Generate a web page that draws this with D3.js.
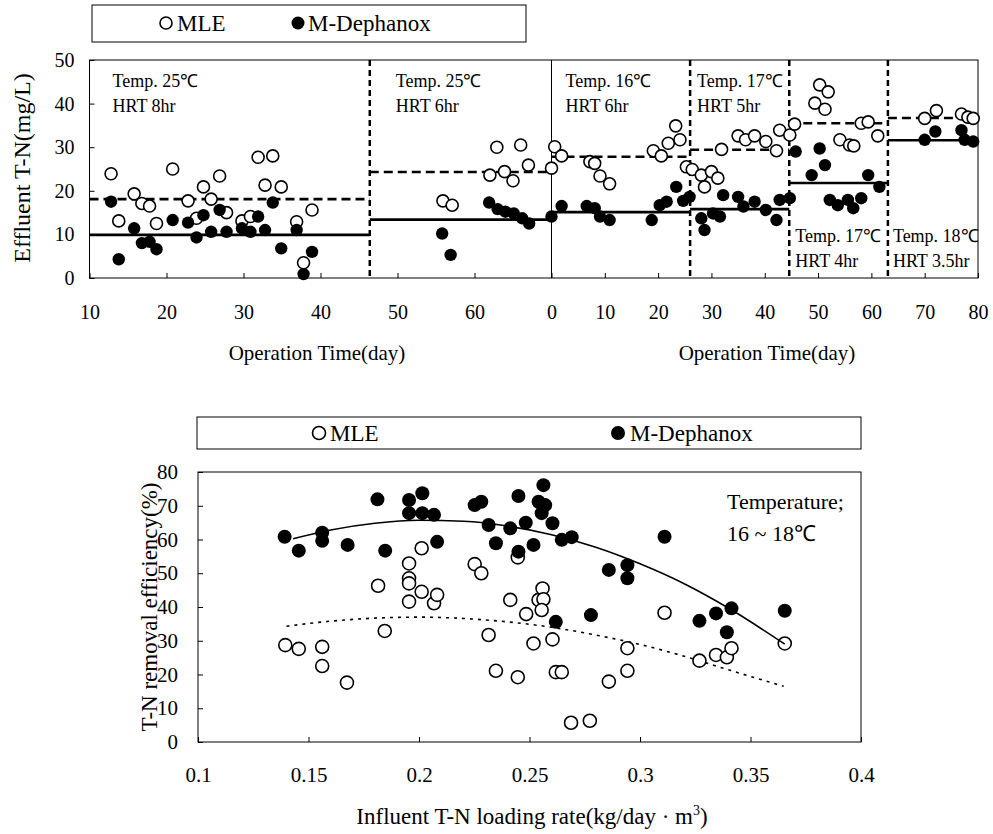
<!DOCTYPE html>
<html>
<head>
<meta charset="utf-8">
<script src="https://cdn.jsdelivr.net/npm/d3@7"></script>
<style>
  body { margin: 0; background: #fff; }
  svg, svg text { font-family: "Liberation Serif", "Times New Roman", serif; }
</style>
</head>
<body>
<svg id="chart" width="993" height="834"></svg>
<script>
// ---- top chart: effluent T-N vs operation time (two runs side by side) ----
const leftTicks = [10, 20, 30, 40, 50, 60];
const rightTicks = [0, 10, 20, 30, 40, 50, 60, 70, 80];
const topYTicks = [0, 10, 20, 30, 40, 50];

// first run (left half, day 10..70)
const mleLeftDay = [12.8, 13.8, 15.8, 16.8, 17.8, 18.7, 20.8, 22.8, 23.9, 24.8, 25.8, 26.9, 27.8, 29.8, 30.9, 31.9, 32.8, 33.8, 34.9, 36.9, 37.8, 38.9,
  55.9, 57.1, 62.0, 62.9, 63.9, 65.0, 66.0, 67.0];
const mleLeftVal = [23.9, 13.1, 19.3, 17.1, 16.5, 12.5, 25.0, 17.7, 13.7, 20.9, 18.1, 23.4, 15.0, 13.1, 14.1, 27.7, 21.3, 28.0, 20.9, 12.9, 3.5, 15.6,
  17.7, 16.7, 23.6, 30.0, 24.4, 22.3, 30.5, 25.9];
const mdLeftDay = [12.8, 13.8, 15.8, 16.8, 17.8, 18.7, 20.8, 22.8, 23.9, 24.8, 25.8, 26.9, 27.8, 29.8, 30.9, 31.9, 32.8, 33.8, 34.9, 36.9, 37.8, 38.9,
  55.8, 56.9, 61.9, 63.0, 64.0, 65.1, 66.2, 67.1];
const mdLeftVal = [17.5, 4.3, 11.4, 8.0, 8.3, 6.6, 13.3, 12.7, 9.3, 14.4, 10.6, 15.6, 10.6, 11.4, 10.6, 14.1, 11.0, 17.3, 6.8, 11.0, 0.9, 6.0,
  10.2, 5.3, 17.3, 15.8, 15.2, 14.8, 13.7, 12.5];

// second run (right half, day 0..80)
const mleRightDay = [0.0, 0.6, 1.9, 7.2, 8.1, 9.1, 10.9, 19.1, 20.6, 21.9, 23.3, 24.1, 25.3, 26.4, 28.1, 28.7, 30.0, 31.2, 31.9, 35.0,
  36.4, 38.1, 40.2, 42.2, 42.8, 44.7, 45.6, 49.4, 50.3, 51.3, 51.9, 54.1, 55.9, 56.7, 58.1, 59.4, 61.2, 70.0, 72.2, 76.9, 78.1, 79.1];
const mleRightVal = [25.2, 30.1, 28.0, 26.7, 26.3, 23.4, 21.6, 29.2, 28.0, 30.9, 34.9, 31.7, 25.5, 24.9, 23.6, 20.9, 24.4, 22.9, 29.5, 32.6,
  31.7, 32.6, 31.3, 29.2, 33.9, 32.8, 35.3, 40.1, 44.3, 38.7, 42.7, 31.7, 30.5, 30.3, 35.5, 35.8, 32.6, 36.6, 38.4, 37.6, 36.9, 36.6];
const mdRightDay = [0.0, 1.9, 6.6, 8.1, 9.1, 10.9, 18.8, 20.3, 21.6, 23.4, 24.7, 25.9, 28.1, 28.7, 30.3, 31.6, 32.2, 35.0, 36.0, 38.1,
  40.2, 42.2, 42.8, 44.7, 45.8, 48.8, 50.3, 51.3, 52.2, 53.7, 55.6, 56.6, 58.1, 59.4, 61.5, 70.0, 72.0, 76.9, 77.5, 79.1];
const mdRightVal = [14.1, 16.5, 16.5, 16.0, 14.1, 13.3, 13.3, 16.7, 17.5, 20.9, 17.7, 18.6, 13.7, 11.0, 14.8, 14.1, 19.0, 18.6, 16.4, 17.5,
  15.6, 13.3, 17.9, 18.3, 29.0, 23.6, 29.7, 25.9, 17.9, 16.7, 17.9, 16.0, 18.3, 23.6, 20.9, 31.7, 33.6, 33.9, 31.7, 31.3];

// operating periods: panel, start/end day, mean MLE (dashed), mean M-Dephanox (solid)
const periodPanel = ["L", "L", "R", "R", "R", "R"];
const periodStart = [10, 46.4, 0, 26.0, 44.6, 63.1];
const periodEnd = [46.4, 70, 26.0, 44.6, 63.1, 80];
const periodMLE = [18.1, 24.3, 27.8, 29.4, 35.5, 36.7];
const periodMD = [9.9, 13.4, 15.1, 15.8, 21.8, 31.6];
const periodTemp = ["Temp. 25\u2103", "Temp. 25\u2103", "Temp. 16\u2103", "Temp. 17\u2103", "Temp. 17\u2103", "Temp. 18\u2103"];
const periodHRT = ["HRT 8hr", "HRT 6hr", "HRT 6hr", "HRT 5hr", "HRT 4hr", "HRT 3.5hr"];

// ---- bottom chart: removal efficiency vs loading rate ----
const bottomXTicks = [0.1, 0.15, 0.2, 0.25, 0.3, 0.35, 0.4];
const bottomYTicks = [0, 10, 20, 30, 40, 50, 60, 70, 80];
const mleLoad = [0.1395, 0.1456, 0.1562, 0.1562, 0.1674, 0.1815, 0.1845, 0.1955, 0.1955, 0.1955, 0.1955, 0.2012, 0.2012, 0.2068,
  0.2082, 0.2252, 0.2282, 0.2315, 0.2348, 0.2413, 0.2447, 0.2447, 0.2485, 0.2518, 0.2541, 0.2559, 0.2563, 0.2555, 0.2604, 0.2619,
  0.2646, 0.2688, 0.2773, 0.2859, 0.2943, 0.2943, 0.3111, 0.3269, 0.3344, 0.3393, 0.3414, 0.3655];
const mleEff = [28.7, 27.6, 28.2, 22.5, 17.6, 46.3, 32.9, 52.9, 48.5, 47.0, 41.6, 57.4, 44.5, 41.1,
  43.6, 52.7, 50.0, 31.7, 21.1, 42.1, 54.7, 19.2, 37.9, 29.2, 42.1, 45.5, 42.3, 39.1, 30.4, 20.7,
  20.7, 5.7, 6.3, 17.9, 27.8, 21.1, 38.3, 24.1, 25.8, 25.1, 27.8, 29.2];
const mdLoad = [0.1392, 0.1456, 0.1562, 0.1562, 0.1677, 0.1812, 0.1847, 0.1955, 0.1955, 0.2015, 0.2015, 0.2068, 0.2082, 0.2252,
  0.2282, 0.2315, 0.2348, 0.2413, 0.2450, 0.2450, 0.2483, 0.2518, 0.2541, 0.2563, 0.2571, 0.2555, 0.2604, 0.2646, 0.2691, 0.2619,
  0.2778, 0.2859, 0.2943, 0.2943, 0.3111, 0.3269, 0.3344, 0.3414, 0.3393, 0.3655];
const mdEff = [60.8, 56.7, 62.0, 59.6, 58.4, 71.9, 56.7, 71.7, 67.8, 73.7, 67.8, 67.3, 59.3, 70.2,
  71.2, 64.3, 58.9, 63.3, 72.9, 56.4, 65.0, 58.4, 71.2, 76.1, 70.2, 67.8, 64.8, 59.9, 60.7, 35.6,
  37.6, 51.0, 52.4, 48.5, 60.8, 35.9, 38.1, 39.6, 32.5, 38.9];
// trend curves
const mdTrendX = [0.143, 0.16, 0.18, 0.20, 0.22, 0.24, 0.26, 0.28, 0.30, 0.32, 0.34, 0.3655];
const mdTrendY = [60.2, 62.8, 64.8, 65.7, 65.4, 64.0, 61.4, 57.7, 52.8, 46.9, 39.7, 29.0];
const mleTrendX = [0.14, 0.16, 0.18, 0.20, 0.22, 0.24, 0.26, 0.28, 0.30, 0.32, 0.34, 0.365];
const mleTrendY = [34.3, 35.8, 36.7, 37.0, 36.6, 35.6, 34.0, 31.7, 28.9, 25.4, 21.4, 16.5];

const svg = d3.select("#chart");
const black = "#000";
const serif = "'Liberation Serif', 'Times New Roman', serif";

// scales
const xL = d3.scaleLinear().domain([10, 70]).range([89.5, 551.5]);
const xR = d3.scaleLinear().domain([0, 80]).range([551.5, 978]);
const yT = d3.scaleLinear().domain([0, 50]).range([278, 60]);
const xB = d3.scaleLinear().domain([0.1, 0.4]).range([198, 861]);
const yB = d3.scaleLinear().domain([0, 80]).range([742, 472]);
const xPanel = (p, d) => (p === "L" ? xL(d) : xR(d));

function axisStyle(g, size) {
  g.attr("font-family", serif).attr("font-size", null);
  g.select(".domain").remove();
  g.selectAll(".tick line").attr("stroke", black).attr("stroke-width", 1);
  g.selectAll(".tick text").attr("fill", black)
    .style("font-family", serif).style("font-size", size + "px");
}

// ===== top chart =====
const topG = svg.append("g");

topG.append("g").attr("transform", "translate(0,278)")
  .call(d3.axisBottom(xL).tickValues(leftTicks).tickSizeInner(-5).tickSizeOuter(0).tickPadding(27))
  .call(g => axisStyle(g, 20));
topG.append("g").attr("transform", "translate(0,278)")
  .call(d3.axisBottom(xR).tickValues(rightTicks).tickSizeInner(-5).tickSizeOuter(0).tickPadding(27))
  .call(g => axisStyle(g, 20));
topG.append("g").attr("transform", "translate(89.5,0)")
  .call(d3.axisLeft(yT).tickValues(topYTicks).tickSizeInner(-5).tickSizeOuter(0).tickPadding(15))
  .call(g => axisStyle(g, 20));

topG.append("rect")
  .attr("x", xL(10)).attr("y", yT(50))
  .attr("width", xR(80) - xL(10)).attr("height", yT(0) - yT(50))
  .attr("fill", "none").attr("stroke", black).attr("stroke-width", 1);
// border between the two runs
topG.append("line")
  .attr("x1", xR(0)).attr("x2", xR(0)).attr("y1", yT(50)).attr("y2", yT(0))
  .attr("stroke", black).attr("stroke-width", 1);

// period separators (dashed)
const sepIdx = d3.range(1, periodStart.length).filter(i => !(periodPanel[i] === "R" && periodStart[i] === 0));
topG.append("g").selectAll("line").data(sepIdx).join("line")
  .attr("x1", i => xPanel(periodPanel[i], periodStart[i]))
  .attr("x2", i => xPanel(periodPanel[i], periodStart[i]))
  .attr("y1", yT(50)).attr("y2", yT(0))
  .attr("stroke", black).attr("stroke-width", 2.5).attr("stroke-dasharray", "6,4");

// period mean lines
const pIdx = d3.range(periodStart.length);
topG.append("g").selectAll("line").data(pIdx).join("line")
  .attr("x1", i => xPanel(periodPanel[i], periodStart[i]))
  .attr("x2", i => xPanel(periodPanel[i], periodEnd[i]))
  .attr("y1", i => yT(periodMLE[i])).attr("y2", i => yT(periodMLE[i]))
  .attr("stroke", black).attr("stroke-width", 2.6).attr("stroke-dasharray", "9,5");
topG.append("g").selectAll("line").data(pIdx).join("line")
  .attr("x1", i => xPanel(periodPanel[i], periodStart[i]))
  .attr("x2", i => xPanel(periodPanel[i], periodEnd[i]))
  .attr("y1", i => yT(periodMD[i])).attr("y2", i => yT(periodMD[i]))
  .attr("stroke", black).attr("stroke-width", 2.6);

// period labels
const annotDx = [23, 26, 14, 7, 6, 5];
const annotLow = [false, false, false, false, true, true];
const annot = topG.append("g").style("font-size", "18px").attr("fill", black);
pIdx.forEach(i => {
  const x = xPanel(periodPanel[i], periodStart[i]) + annotDx[i];
  const y0 = annotLow[i] ? 242 : 87;
  annot.append("text").attr("x", x).attr("y", y0).text(periodTemp[i]);
  annot.append("text").attr("x", x).attr("y", y0 + 25).text(periodHRT[i]);
});

// markers
const mleTop = mleLeftDay.map((d, i) => [xL(d), yT(mleLeftVal[i])])
  .concat(mleRightDay.map((d, i) => [xR(d), yT(mleRightVal[i])]));
const mdTop = mdLeftDay.map((d, i) => [xL(d), yT(mdLeftVal[i])])
  .concat(mdRightDay.map((d, i) => [xR(d), yT(mdRightVal[i])]));
topG.append("g").selectAll("circle").data(mleTop).join("circle")
  .attr("cx", d => d[0]).attr("cy", d => d[1]).attr("r", 6)
  .attr("fill", "#fff").attr("stroke", black).attr("stroke-width", 1.6);
topG.append("g").selectAll("circle").data(mdTop).join("circle")
  .attr("cx", d => d[0]).attr("cy", d => d[1]).attr("r", 6.2)
  .attr("fill", black);

// axis titles
topG.append("text").attr("x", 317).attr("y", 360)
  .attr("text-anchor", "middle").style("font-size", "21px").text("Operation Time(day)");
topG.append("text").attr("x", 767).attr("y", 360)
  .attr("text-anchor", "middle").style("font-size", "21px").text("Operation Time(day)");
topG.append("text").attr("transform", "translate(30,168) rotate(-90)")
  .attr("text-anchor", "middle").style("font-size", "24px").text("Effluent T-N(mg/L)");

// legend
topG.append("rect").attr("x", 92).attr("y", 5).attr("width", 434).attr("height", 37)
  .attr("fill", "none").attr("stroke", black).attr("stroke-width", 1);
topG.append("circle").attr("cx", 166).attr("cy", 23).attr("r", 6)
  .attr("fill", "#fff").attr("stroke", black).attr("stroke-width", 1.6);
topG.append("text").attr("x", 177).attr("y", 31).style("font-size", "23px").text("MLE");
topG.append("circle").attr("cx", 298).attr("cy", 23).attr("r", 6.5).attr("fill", black);
topG.append("text").attr("x", 308).attr("y", 31).style("font-size", "23px").text("M-Dephanox");

// ===== bottom chart =====
const bot = svg.append("g");

bot.append("g").attr("transform", "translate(0,742)")
  .call(d3.axisBottom(xB).tickValues(bottomXTicks).tickSizeInner(-5).tickSizeOuter(0).tickPadding(25)
    .tickFormat(d3.format("")))
  .call(g => axisStyle(g, 21));
bot.append("g").attr("transform", "translate(198,0)")
  .call(d3.axisLeft(yB).tickValues(bottomYTicks).tickSizeInner(-5).tickSizeOuter(0).tickPadding(20))
  .call(g => axisStyle(g, 21));

bot.append("rect")
  .attr("x", xB(0.1)).attr("y", yB(80))
  .attr("width", xB(0.4) - xB(0.1)).attr("height", yB(0) - yB(80))
  .attr("fill", "none").attr("stroke", black).attr("stroke-width", 1);

const line = d3.line().curve(d3.curveMonotoneX);
bot.append("path")
  .attr("d", line(mleTrendX.map((x, i) => [xB(x), yB(mleTrendY[i])])))
  .attr("fill", "none").attr("stroke", black).attr("stroke-width", 1.6).attr("stroke-dasharray", "3,5");

bot.append("g").selectAll("circle").data(mleLoad.map((x, i) => [xB(x), yB(mleEff[i])])).join("circle")
  .attr("cx", d => d[0]).attr("cy", d => d[1]).attr("r", 6.5)
  .attr("fill", "#fff").attr("stroke", black).attr("stroke-width", 1.6);
bot.append("g").selectAll("circle").data(mdLoad.map((x, i) => [xB(x), yB(mdEff[i])])).join("circle")
  .attr("cx", d => d[0]).attr("cy", d => d[1]).attr("r", 7)
  .attr("fill", black);

bot.append("path")
  .attr("d", line(mdTrendX.map((x, i) => [xB(x), yB(mdTrendY[i])])))
  .attr("fill", "none").attr("stroke", black).attr("stroke-width", 1.6);

bot.append("text").attr("x", 727).attr("y", 509).style("font-size", "22px").text("Temperature;");
bot.append("text").attr("x", 727).attr("y", 541).style("font-size", "22px").text("16 ~ 18\u2103");

// axis titles
bot.append("text").attr("transform", "translate(157,607) rotate(-90)")
  .attr("text-anchor", "middle").style("font-size", "23px").text("T-N removal efficiency(%)");
const xt = bot.append("text").attr("x", 532).attr("y", 824)
  .attr("text-anchor", "middle").style("font-size", "23px");
xt.append("tspan").text("Influent T-N loading rate(kg/day \u00b7 m");
xt.append("tspan").attr("dy", -9).style("font-size", "14px").text("3");
xt.append("tspan").attr("dy", 9).text(")");

// legend
bot.append("rect").attr("x", 197).attr("y", 417).attr("width", 664).attr("height", 32)
  .attr("fill", "none").attr("stroke", black).attr("stroke-width", 1);
bot.append("circle").attr("cx", 319).attr("cy", 433).attr("r", 6.5)
  .attr("fill", "#fff").attr("stroke", black).attr("stroke-width", 1.6);
bot.append("text").attr("x", 330).attr("y", 441).style("font-size", "23px").text("MLE");
bot.append("circle").attr("cx", 618).attr("cy", 433).attr("r", 7).attr("fill", black);
bot.append("text").attr("x", 630).attr("y", 441).style("font-size", "23px").text("M-Dephanox");
</script>
</body>
</html>
